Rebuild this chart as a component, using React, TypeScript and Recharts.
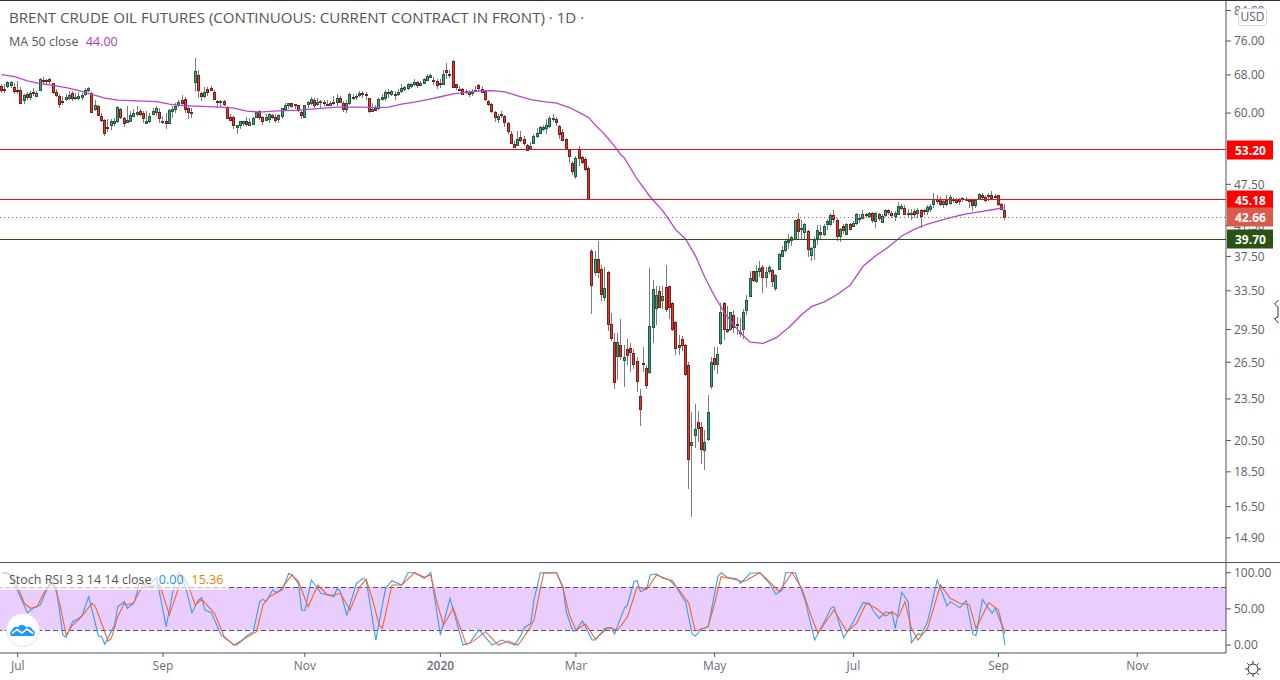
import {
  Bar,
  ComposedChart,
  Line,
  ReferenceArea,
  ReferenceLine,
  XAxis,
  YAxis,
} from "recharts";

const FONT = "'Open Sans', 'Noto Sans', sans-serif";

// trading days, Jul 2019 to Sep 2020, plus empty room on the right of the chart
const slotCount = 380;

const opens = [
  65.5, 65.0, 65.5, 65.8, 65.4, 64.8, 64.7, 62.5, 63.8, 63.1,
  64.3, 63.5, 64.6, 66.8, 66.8, 67.0, 66.2, 64.3, 63.4, 62.4,
  62.8, 63.1, 64.0, 63.0, 63.1, 63.2, 63.8, 64.6, 64.1, 60.9,
  61.4, 59.4, 58.6, 57.3, 57.6, 58.2, 58.4, 60.9, 59.0, 58.2,
  58.6, 59.6, 60.0, 60.4, 60.0, 58.1, 58.5, 59.8, 60.3, 60.2,
  58.4, 58.5, 58.0, 60.4, 60.8, 61.6, 62.7, 62.8, 61.0, 60.3,
  66.3, 68.0, 64.1, 63.4, 65.0, 65.2, 64.3, 62.4, 62.2, 62.4,
  61.2, 59.2, 59.2, 57.4, 57.7, 58.0, 58.5, 57.8, 57.8, 59.3,
  60.4, 59.2, 58.7, 58.8, 59.6, 59.3, 58.9, 59.5, 60.9, 61.6,
  62.0, 61.8, 61.7, 60.2, 59.4, 61.7, 62.0, 62.7, 61.7, 62.2,
  62.2, 61.9, 61.7, 62.3, 62.3, 63.1, 62.0, 60.7, 62.0, 63.3,
  63.2, 63.5, 64.0, 63.9, 63.0, 60.6, 61.0, 61.0, 62.7, 63.0,
  64.3, 63.7, 63.9, 63.8, 64.5, 64.9, 65.1, 65.7, 65.9, 66.4,
  65.8, 66.3, 67.0, 67.6, 66.9, 66.7, 66.2, 66.1, 69.2, 68.3,
  71.1, 65.9, 65.0, 65.0, 64.3, 64.3, 64.0, 64.6, 65.7, 65.0,
  64.4, 62.5, 61.9, 60.2, 58.9, 59.8, 59.4, 58.0, 56.0, 54.2,
  54.0, 55.4, 55.1, 54.0, 53.5, 54.4, 55.6, 56.2, 57.0, 57.1,
  57.4, 59.0, 58.8, 57.6, 56.4, 55.1, 53.1, 51.0, 48.8, 53.3,
  51.9, 51.6, 50.1,
  38.2, 35.7, 37.2, 36.0, 32.8, 35.6, 30.0, 28.3, 27.0, 28.0,
  26.7, 27.7, 27.8, 27.3, 26.6, 23.7, 26.4, 26.0, 25.6, 29.8,
  31.6, 33.5, 32.5, 33.9, 34.0, 32.2, 30.2, 28.0, 28.6, 28.0,
  26.3, 20.2, 20.9, 21.8, 21.4, 19.9, 20.6, 24.5, 26.9, 26.3,
  28.2, 32.2, 29.6, 29.5, 30.9, 30.0, 29.3, 29.5, 31.5, 32.9,
  35.7, 34.5,
  35.8, 36.2, 35.0, 35.7, 35.9, 33.8, 36.0, 37.6, 38.3, 39.4,
  39.5, 39.7, 42.4, 41.0, 40.6, 40.8, 37.7, 38.7, 39.8, 40.6,
  40.3, 41.7, 41.7, 43.0, 42.3, 40.1, 41.4, 40.4, 41.7, 41.5,
  41.8, 42.6, 42.6, 43.1, 42.8, 43.2, 42.1, 43.1, 42.0, 42.9,
  43.6, 43.3, 42.9, 43.1, 43.9, 44.0, 43.2, 43.2, 43.5, 43.2,
  43.7, 43.7, 43.5, 43.8, 44.4, 45.3, 45.2, 44.6, 45.1, 44.6,
  45.2, 45.2, 45.2, 45.2, 45.2, 45.2, 45.1, 44.4, 45.2, 45.9,
  45.6, 45.6, 45.8, 45.7, 45.8, 44.6, 43.6,
];

const closes = [
  64.6, 64.8, 66.4, 66.4, 64.6, 64.6, 62.0, 63.6, 63.1, 64.0,
  64.0, 64.1, 67.0, 66.5, 66.7, 66.5, 64.3, 63.6, 61.7, 62.3,
  63.2, 63.7, 62.9, 63.3, 63.5, 63.6, 64.7, 65.1, 60.2, 61.7,
  59.7, 58.7, 56.1, 57.2, 58.4, 58.5, 61.2, 59.3, 58.0, 58.6,
  59.7, 60.1, 60.3, 59.8, 59.1, 58.5, 59.4, 60.4, 61.0, 59.0,
  58.4, 58.1, 60.6, 60.8, 61.5, 62.3, 62.1, 60.8, 60.2, 60.1,
  68.8, 64.7, 63.4, 64.3, 64.3, 64.8, 62.9, 62.1, 62.5, 61.7,
  59.1, 58.7, 57.7, 57.7, 58.4, 58.4, 58.0, 58.3, 59.0, 60.3,
  59.2, 58.5, 59.3, 59.8, 59.3, 58.7, 59.6, 61.0, 61.7, 62.0,
  61.4, 61.6, 60.6, 59.6, 61.7, 62.2, 62.9, 61.6, 62.2, 62.5,
  61.9, 61.8, 62.1, 62.1, 63.1, 62.3, 60.7, 62.0, 63.8, 63.1,
  63.5, 64.0, 63.9, 63.8, 60.3, 60.9, 60.7, 62.8, 63.2, 64.3,
  64.1, 64.4, 63.6, 64.2, 65.1, 65.4, 66.0, 66.1, 66.4, 65.8,
  66.2, 67.1, 67.8, 68.0, 66.7, 65.9, 66.1, 68.3, 68.7, 68.0,
  65.2, 65.3, 64.9, 64.0, 64.6, 63.9, 64.5, 64.8, 65.0, 64.4,
  62.8, 61.9, 60.5, 59.2, 59.4, 59.7, 58.2, 56.5, 54.4, 53.7,
  55.1, 54.9, 54.3, 53.2, 53.9, 55.7, 56.2, 57.3, 57.4, 57.7,
  59.0, 59.1, 58.3, 56.1, 55.0, 53.3, 52.1, 49.6, 51.8, 51.8,
  51.1, 49.9, 45.3,
  34.2, 37.2, 35.7, 33.2, 33.8, 30.0, 28.7, 24.8, 28.3, 27.0,
  27.0, 27.2, 27.4, 26.3, 24.9, 22.7, 26.3, 24.6, 29.8, 33.7,
  33.0, 31.8, 32.9, 31.5, 31.7, 29.6, 27.7, 27.8, 28.0, 25.5,
  19.3, 20.4, 21.3, 21.4, 19.9, 20.4, 22.5, 26.5, 26.4, 27.2,
  31.2, 29.6, 29.4, 31.2, 29.7, 29.9, 29.2, 31.2, 32.5, 34.9,
  34.7, 35.7,
  36.1, 35.0, 35.6, 36.2, 34.6, 35.3, 37.8, 38.3, 39.4, 39.6,
  39.9, 42.2, 40.7, 41.1, 41.7, 38.4, 38.6, 39.6, 40.9, 40.4,
  41.4, 42.1, 42.9, 42.4, 40.1, 41.0, 40.8, 41.7, 41.0, 41.9,
  43.1, 42.6, 43.1, 42.9, 43.2, 42.2, 43.2, 42.6, 42.8, 43.6,
  43.3, 43.0, 43.3, 44.2, 44.2, 43.2, 43.3, 43.3, 43.1, 43.6,
  42.8, 43.5, 44.1, 44.3, 45.2, 45.0, 44.4, 45.0, 44.5, 45.5,
  45.1, 44.7, 44.9, 45.4, 45.3, 44.9, 44.3, 45.1, 46.0, 45.6,
  45.1, 45.8, 45.4, 45.6, 44.4, 43.9, 42.66,
];

const highs = [
  66.1, 65.9, 66.7, 66.7, 66.3, 66.7, 65.4, 63.8, 64.2, 64.6,
  65.1, 64.6, 67.3, 67.6, 67.0, 67.3, 66.3, 64.9, 63.8, 63.4,
  63.8, 64.6, 64.6, 64.0, 64.2, 64.0, 65.2, 65.4, 64.2, 62.7,
  61.7, 60.1, 58.8, 58.8, 58.8, 59.1, 61.4, 61.1, 59.3, 61.4,
  60.5, 60.9, 61.4, 60.8, 60.4, 60.4, 60.1, 61.1, 61.4, 61.1,
  59.4, 60.1, 60.8, 61.4, 62.1, 62.7, 63.6, 63.3, 61.7, 61.1,
  71.8, 69.0, 64.2, 65.4, 65.4, 65.6, 64.7, 62.6, 62.7, 62.7,
  61.4, 59.8, 59.4, 57.7, 58.5, 58.5, 59.3, 59.1, 59.2, 60.5,
  60.7, 59.4, 59.8, 60.0, 59.9, 59.8, 59.8, 61.1, 62.1, 62.1,
  62.1, 61.7, 61.7, 60.4, 61.7, 62.4, 63.3, 63.1, 63.1, 62.6,
  62.6, 62.7, 62.4, 63.4, 63.8, 63.4, 62.4, 62.7, 64.0, 63.8,
  63.8, 64.4, 64.4, 64.2, 63.1, 62.1, 61.7, 63.1, 63.8, 64.7,
  64.9, 64.7, 64.6, 64.9, 65.9, 65.6, 66.3, 66.3, 67.0, 66.7,
  66.7, 67.3, 68.1, 68.3, 67.6, 67.0, 67.0, 69.2, 70.6, 69.2,
  71.5, 66.1, 65.6, 65.2, 64.9, 64.7, 64.9, 65.6, 66.1, 65.6,
  64.7, 62.7, 62.1, 60.4, 59.8, 60.5, 59.6, 58.3, 56.6, 54.8,
  56.6, 56.6, 55.7, 54.2, 54.5, 56.0, 57.2, 57.5, 57.7, 58.8,
  59.4, 59.8, 59.2, 57.7, 56.9, 55.2, 53.4, 51.2, 52.2, 53.9,
  52.2, 52.0, 50.4,
  38.4, 38.2, 39.5, 36.5, 36.2, 35.7, 31.1, 29.2, 29.2, 30.5,
  28.0, 28.6, 28.2, 27.7, 27.0, 24.3, 27.9, 26.3, 36.1, 34.7,
  34.0, 34.0, 34.0, 36.4, 34.0, 32.3, 30.3, 29.0, 28.9, 28.1,
  26.5, 22.5, 23.1, 22.6, 21.8, 21.2, 23.8, 27.0, 27.9, 27.9,
  32.2, 32.3, 31.9, 31.3, 31.5, 30.7, 30.6, 31.6, 33.0, 35.7,
  35.8, 36.5,
  36.9, 36.4, 36.2, 36.5, 36.0, 35.4, 37.9, 38.8, 39.6, 40.4,
  40.1, 42.3, 43.3, 42.3, 41.9, 40.9, 38.7, 39.9, 41.6, 41.5,
  41.7, 42.4, 43.2, 43.7, 42.5, 41.2, 41.7, 41.9, 41.9, 42.1,
  43.3, 43.1, 43.7, 43.3, 43.4, 43.4, 43.4, 43.3, 43.1, 43.8,
  43.8, 43.5, 43.5, 44.8, 44.5, 44.4, 43.8, 43.8, 43.8, 44.0,
  43.8, 43.8, 44.4, 44.6, 46.2, 45.8, 45.6, 45.3, 45.8, 45.8,
  45.5, 45.4, 45.4, 45.6, 45.6, 45.3, 45.2, 45.2, 46.2, 46.1,
  45.8, 46.2, 46.5, 46.0, 45.9, 44.7, 44.6,
];

const lows = [
  64.0, 64.0, 65.1, 65.1, 63.8, 63.8, 61.9, 61.8, 62.7, 62.6,
  63.4, 63.4, 64.4, 65.9, 65.9, 66.1, 63.8, 63.3, 61.1, 61.7,
  62.4, 62.7, 62.4, 62.6, 62.7, 62.6, 63.4, 64.2, 60.1, 60.5,
  59.4, 58.3, 55.7, 56.3, 56.7, 57.5, 58.1, 58.8, 57.3, 58.1,
  58.3, 59.2, 59.4, 59.4, 58.1, 57.9, 58.1, 59.6, 59.4, 58.1,
  57.8, 57.0, 57.8, 59.1, 60.1, 61.2, 61.7, 60.1, 58.8, 59.1,
  64.2, 63.1, 62.4, 63.1, 63.4, 64.4, 62.7, 61.1, 61.2, 61.4,
  58.8, 58.6, 57.0, 56.0, 56.9, 57.5, 57.6, 57.7, 57.7, 59.1,
  58.7, 57.7, 58.5, 58.1, 58.8, 58.0, 58.0, 58.8, 60.4, 60.8,
  61.1, 60.9, 60.3, 58.9, 59.1, 61.1, 61.6, 61.1, 61.4, 61.1,
  61.4, 61.4, 61.4, 61.6, 61.4, 62.1, 60.3, 60.1, 61.7, 62.7,
  62.7, 63.3, 63.1, 62.7, 60.1, 60.3, 60.4, 60.7, 62.4, 62.4,
  63.1, 63.4, 62.6, 63.4, 64.0, 64.6, 64.7, 65.2, 65.6, 65.2,
  65.6, 65.9, 66.7, 67.4, 65.8, 64.9, 65.2, 65.9, 67.0, 67.4,
  65.1, 64.7, 64.4, 63.7, 63.8, 63.3, 63.4, 64.2, 64.6, 64.0,
  62.4, 61.4, 60.1, 58.3, 58.1, 59.1, 57.3, 56.1, 54.2, 53.6,
  53.9, 54.5, 53.9, 53.0, 53.3, 54.2, 55.3, 56.0, 56.6, 56.1,
  57.2, 58.3, 57.5, 55.1, 54.8, 53.3, 50.9, 48.9, 48.3, 50.5,
  50.8, 49.7, 45.1,
  31.0, 35.2, 34.9, 32.4, 32.4, 29.4, 28.4, 24.3, 25.0, 26.7,
  24.4, 26.3, 25.7, 25.9, 24.0, 21.5, 25.7, 24.3, 25.5, 28.2,
  29.9, 31.7, 31.6, 31.2, 30.5, 29.4, 27.1, 27.1, 27.5, 25.3,
  17.5, 15.98, 20.0, 20.4, 19.0, 18.6, 20.5, 24.3, 25.8, 25.5,
  28.0, 28.5, 29.2, 29.4, 29.2, 29.0, 28.8, 28.6, 30.9, 32.8,
  34.5, 34.4,
  35.0, 33.3, 33.9, 35.4, 33.9, 33.5, 35.9, 37.4, 38.1, 38.4,
  38.8, 39.6, 39.6, 39.6, 39.6, 37.4, 36.9, 37.1, 38.9, 39.6,
  40.1, 40.9, 41.4, 41.9, 39.4, 39.3, 40.3, 40.2, 40.9, 41.3,
  41.6, 41.9, 42.4, 42.5, 42.5, 41.9, 41.2, 42.1, 41.9, 42.7,
  43.0, 42.6, 42.1, 43.0, 43.7, 42.9, 42.6, 42.3, 42.6, 42.6,
  41.2, 42.9, 42.9, 43.4, 44.0, 44.6, 44.2, 44.0, 44.3, 44.4,
  44.7, 44.5, 44.4, 44.8, 44.9, 44.0, 43.5, 43.9, 45.1, 45.3,
  44.8, 45.0, 45.2, 45.4, 44.2, 43.6, 42.2,
];

// MA 50, read every few sessions
const maSlots = [
  0, 4, 8, 12, 16, 20, 24, 28, 32, 36, 40, 44, 48, 52, 56, 60, 64, 68, 72, 76,
  80, 84, 88, 92, 96, 100, 104, 108, 112, 116, 120, 124, 128, 132, 136, 140,
  144, 148, 152, 156, 160, 164, 168, 172, 176, 180, 182, 184, 186, 188, 190,
  192, 193, 197, 201, 205, 209, 212, 215, 218, 221, 224, 227, 229, 232, 236,
  240, 244, 248, 251, 255, 259, 263, 267, 271, 275, 279, 283, 287, 291, 295,
  299, 303, 307, 311,
];
const maValues = [
  68.05, 67.6, 66.7, 66.1, 65.7, 65.2, 64.6, 63.8, 63.0, 62.6, 62.5, 62.4, 62.3,
  61.8, 61.5, 61.4, 61.3, 61.2, 61.0, 60.4, 60.2, 60.4, 60.5, 60.6, 60.8, 61.0,
  61.2, 61.2, 61.2, 61.1, 61.2, 61.8, 62.2, 62.7, 63.3, 63.9, 64.2, 64.5, 64.6,
  64.3, 63.5, 62.7, 62.3, 62.0, 61.1, 59.8, 59.1, 57.7, 56.5, 55.2, 53.8, 52.3,
  51.8, 48.3, 45.6, 43.5, 40.9, 39.7, 37.6, 35.0, 32.9, 31.2, 29.9, 29.2, 28.3,
  28.2, 28.7, 29.7, 31.0, 31.8, 32.3, 33.1, 34.1, 36.3, 37.6, 38.7, 40.1, 41.0,
  41.7, 42.2, 42.7, 43.1, 43.4, 43.7, 44.0,
];

// Stoch RSI %K and %D, read at their turning points
const kSlots = [
  0, 2, 3, 6, 8, 10, 12, 15, 17, 19, 20, 22, 24, 25, 27, 30, 31, 32, 35, 36, 38,
  39, 41, 43, 45, 48, 51, 54, 55, 57, 59, 61, 62, 63, 65, 68, 72, 73, 76, 78,
  80, 81, 82, 84, 85, 87, 89, 90, 92, 93, 94, 96, 99, 103, 104, 105, 107, 110,
  112, 113, 116, 119, 121, 124, 126, 128, 131, 133, 134, 136, 139, 143, 145,
  148, 152, 155, 159, 161, 162, 164, 165, 167, 172, 174, 175, 177, 178, 180,
  181, 183, 184, 187, 189, 190, 193, 194, 196, 197, 198, 200, 201, 203, 205,
  208, 211, 212, 214, 215, 217, 219, 220, 222, 223, 225, 228, 229, 232, 235,
  238, 240, 242, 243, 246, 249, 252, 255, 257, 258, 261, 264, 267, 269, 270,
  272, 274, 276, 277, 279, 281, 282, 284, 285, 287, 290, 291, 293, 294, 297,
  299, 301, 302, 304, 307, 308, 310, 311,
];
const kValues = [
  100, 100, 94.5, 64.6, 44.8, 51.7, 55.4, 87.6, 76.1, 13.9, 10.6, 32.3, 36.9,
  41.5, 66.9, 12.5, 11.6, 1, 27.7, 53, 60, 50.8, 57.7, 89.9, 78.4, 93.6, 25.4,
  94.5, 100, 80.7, 44.8, 62.3, 65.5, 48.4, 44.8, 13.9, 0, 0, 12.5, 18.5, 60,
  63.2, 60, 76.1, 72.9, 76.1, 99.2, 96.9, 85.3, 48.4, 47.5, 89.9, 71.5, 66.9,
  78.4, 73.8, 41.5, 85.3, 92.2, 89.9, 6.9, 78.4, 89, 83, 100, 100, 92.2, 100,
  71.5, 13.9, 64.6, 0, 2.3, 20.8, 0, 6.9, 0, 13.9, 24, 30, 62.3, 100, 100, 80.7,
  46, 19.4, 19.9, 33.2, 25.4, 6.9, 6.9, 23.1, 24, 15.3, 50.8, 55.4, 87.6, 89,
  73.8, 78.4, 96.9, 98.2, 92.2, 89, 66, 60, 15.3, 12.5, 22.2, 25.4, 48.4, 94.5,
  100, 93.6, 91.3, 85.3, 99.2, 100, 85.3, 70.1, 76.1, 100, 100, 62.3, 6.9, 32.3,
  50.8, 53, 10.2, 32.3, 58.6, 57.7, 48.4, 36.9, 46, 43.8, 23.1, 72.9, 60, 3.3,
  15.3, 13.9, 32.3, 89.9, 78.4, 54, 60, 51.7, 61.4, 15.3, 12.9, 63.2, 43.8,
  50.8, 27.7, 0,
];
const dSlots = [
  0, 3, 4, 5, 7, 9, 11, 13, 16, 18, 20, 22, 24, 26, 28, 29, 31, 33, 34, 36, 38,
  39, 41, 44, 46, 49, 52, 55, 56, 58, 60, 62, 66, 69, 72, 76, 79, 81, 83, 86,
  90, 92, 95, 98, 101, 103, 105, 108, 111, 113, 115, 117, 118, 121, 124, 128,
  131, 133, 135, 137, 140, 144, 146, 150, 154, 157, 160, 161, 163, 165, 167,
  168, 172, 174, 176, 178, 181, 184, 188, 191, 194, 197, 200, 203, 207, 210,
  213, 215, 219, 221, 223, 227, 230, 235, 238, 241, 245, 248, 251, 253, 258,
  262, 265, 268, 271, 274, 276, 278, 280, 282, 284, 287, 291, 294, 297, 300,
  302, 306, 309, 310, 311,
];
const dValues = [
  100, 97, 92.2, 80.7, 57.7, 50.8, 53, 71.5, 87.6, 57.7, 13.9, 27.7, 35.5, 46.1,
  57.7, 54, 30, 5.6, 9.3, 39.2, 57.7, 55.4, 58.6, 85.3, 80.7, 83, 41.5, 80.7,
  96.9, 80.7, 55.4, 63.2, 43.8, 11.6, 0, 10.6, 18.5, 55.4, 66.9, 73.8, 96.9,
  87.6, 53, 83, 69.2, 69.2, 71.5, 48.4, 80.7, 90.9, 62.3, 27.7, 23.1, 83, 83,
  100, 93.6, 96.9, 57.7, 27.7, 50.8, 1, 4.7, 18.5, 0, 5.6, 0, 5.6, 18.5, 34.6,
  78.4, 99.2, 100, 78.4, 41.5, 20.8, 29.1, 8.3, 24, 20.8, 39.2, 80.7, 77, 96.9,
  89.9, 76.1, 57.7, 19.4, 25.4, 57.7, 94.5, 90.9, 87.6, 100, 87.6, 73.8, 100,
  78.4, 39.2, 16.2, 48.4, 18.5, 30, 57.7, 50.8, 40.1, 46, 39.2, 60, 23.1, 6.9,
  23.1, 83, 64.6, 57.7, 55.4, 23.1, 58.6, 48.4, 30, 15.36,
];

const priceTicks = [84, 76, 68, 60, 47.5, 41.5, 37.5, 33.5, 29.5, 26.5, 23.5, 20.5, 18.5, 16.5, 14.9];
const priceDomain = [13.72, 86.65];
const stochTicks = [0, 50, 100];
const timeSlots = [5, 50, 94, 136, 178, 221, 264, 309, 352];
const timeLabels = ["Jul", "Sep", "Nov", "2020", "Mar", "May", "Jul", "Sep", "Nov"];

const rows = Array.from({ length: slotCount }, (_, slot) => {
  const maAt = maSlots.indexOf(slot);
  const kAt = kSlots.indexOf(slot);
  const dAt = dSlots.indexOf(slot);
  const traded = slot < opens.length;
  return {
    slot,
    open: traded ? opens[slot] : null,
    close: traded ? closes[slot] : null,
    high: traded ? highs[slot] : null,
    low: traded ? lows[slot] : null,
    range: traded ? [lows[slot], highs[slot]] : null,
    ma: maAt >= 0 ? maValues[maAt] : null,
    k: kAt >= 0 ? kValues[kAt] : null,
    d: dAt >= 0 ? dValues[dAt] : null,
  };
});

// the bar spans low..high, open and close are placed inside it on the log scale
function Candle(props: any) {
  const { x, y, width, height, payload } = props;
  if (!payload || payload.high == null) return null;
  const { open, close, high, low } = payload;
  const perLog = height / Math.log(high / low);
  const yOpen = y + perLog * Math.log(high / open);
  const yClose = y + perLog * Math.log(high / close);
  const top = Math.round(Math.min(yOpen, yClose));
  const bodyH = Math.max(2, Math.round(Math.abs(yOpen - yClose)) + 1);
  const cx = Math.floor(x + width / 2);
  const up = close >= open;
  return (
    <g shapeRendering="crispEdges">
      <rect x={cx} y={y} width={1} height={height} fill="#7b7b7b" />
      <rect x={cx - 1} y={top} width={3} height={bodyH} fill={up ? "#1f5c40" : "#75201a"} />
      {bodyH > 2 && (
        <rect x={cx} y={top + 1} width={1} height={bodyH - 2} fill={up ? "#45a079" : "#e9392a"} />
      )}
    </g>
  );
}

function PriceTag(props: any) {
  const { viewBox, text, fill } = props;
  const y = Math.round(viewBox.y);
  return (
    <g>
      <rect x={1227} y={y - 9.5} width={46} height={19} fill={fill} />
      <text x={1235} y={y + 4.5} fill="#fff" fontSize={12} fontWeight={700} fontFamily={FONT}>
        {text}
      </text>
    </g>
  );
}

function TimeTick(props: any) {
  const { x, y, payload } = props;
  const label = timeLabels[timeSlots.indexOf(payload.value)];
  return (
    <text
      x={x}
      y={y + 11}
      textAnchor="middle"
      fontSize={12}
      fontFamily={FONT}
      fontWeight={label === "2020" ? 600 : 400}
      fill="#6a6d78"
    >
      {label}
    </text>
  );
}

const axisText = { fontSize: 12, fontFamily: FONT, fill: "#5d606b" };

function SunIcon() {
  return (
    <svg width={18} height={18} style={{ position: "absolute", left: 1244, top: 660 }} viewBox="0 0 18 18">
      <circle cx={9} cy={9} r={5} fill="none" stroke="#222" strokeWidth={1} />
      <path
        d="M9 1v2.5M9 14.5V17M1 9h2.5M14.5 9H17M3.3 3.3l1.8 1.8M12.9 12.9l1.8 1.8M3.3 14.7l1.8-1.8M12.9 5.1l1.8-1.8"
        stroke="#222"
        strokeWidth={1}
      />
    </svg>
  );
}

function LogoIcon() {
  return (
    <svg width={36} height={36} style={{ position: "absolute", left: 5, top: 612 }} viewBox="0 0 36 36">
      <circle cx={18} cy={18} r={16.5} fill="#fff" stroke="#e6def0" strokeWidth={1} />
      <path
        d="M7 24c-2.5 0-2.5-5 0-5.5C8 15 11 14 13 15.5 15 11.5 19 12 21 15.5c3-2 6 0 6.5 2.5 3 .5 3 6 0 6z"
        fill="#2196f3"
      />
      <path d="M7 21.5l5-4 5 3.5 5-4 6 4.5" fill="none" stroke="#fff" strokeWidth={1.6} />
    </svg>
  );
}

function CursorIcon() {
  return (
    <svg width={8} height={25} style={{ position: "absolute", left: 1272, top: 299 }} viewBox="0 0 8 25">
      <path d="M6.5 1L2.5 5l3.5 3v10l-3.5 1.5 4 4.5" fill="#fff" stroke="#333" strokeWidth={1} />
    </svg>
  );
}

export default function App() {
  return (
    <div
      style={{
        position: "absolute",
        left: 0,
        top: 0,
        width: 1280,
        height: 680,
        overflow: "hidden",
        background: "#fff",
        fontFamily: FONT,
      }}
    >
      {/* Price pane */}
      <div style={{ position: "absolute", left: 0, top: 1 }}>
        <ComposedChart
          width={1280}
          height={562}
          data={rows}
          margin={{ top: 0, right: 0, bottom: 0, left: 0 }}
          barCategoryGap={0}
        >
          <XAxis dataKey="slot" hide padding={{ left: 0, right: 0 }} />
          <YAxis
            orientation="right"
            width={54}
            scale="log"
            domain={priceDomain}
            allowDataOverflow
            ticks={priceTicks}
            interval={0}
            tickFormatter={(v: number) => v.toFixed(2)}
            tick={axisText}
            tickSize={5}
            tickMargin={3}
            stroke="#50535e"
          />
          <Bar dataKey="range" shape={<Candle />} isAnimationActive={false} />
          <Line
            dataKey="ma"
            type="linear"
            connectNulls
            dot={false}
            stroke="#b546cc"
            strokeWidth={1.3}
            isAnimationActive={false}
          />
        </ComposedChart>
      </div>

      {/* Price lines and their tags sit above the axis text */}
      <div style={{ position: "absolute", left: 0, top: 1 }}>
        <ComposedChart
          width={1280}
          height={562}
          data={rows}
          margin={{ top: 0, right: 54, bottom: 0, left: 0 }}
        >
          <XAxis dataKey="slot" hide padding={{ left: 0, right: 0 }} />
          <YAxis hide scale="log" domain={priceDomain} allowDataOverflow />
          <ReferenceLine
            y={53.2}
            stroke="#ee1111"
            shapeRendering="crispEdges"
            ifOverflow="visible"
            label={<PriceTag text="53.20" fill="#ff0000" />}
          />
          <ReferenceLine
            y={45.18}
            stroke="#ee1111"
            shapeRendering="crispEdges"
            ifOverflow="visible"
            label={<PriceTag text="45.18" fill="#ff0000" />}
          />
          <ReferenceLine
            y={42.66}
            stroke="#cf4a3c"
            strokeDasharray="1 3"
            shapeRendering="crispEdges"
            ifOverflow="visible"
            label={<PriceTag text="42.66" fill="#dc5a4a" />}
          />
          <ReferenceLine
            y={39.7}
            stroke="#2a5214"
            shapeRendering="crispEdges"
            ifOverflow="visible"
            label={<PriceTag text="39.70" fill="#2a5214" />}
          />
        </ComposedChart>
      </div>

      {/* Stoch RSI pane */}
      <div style={{ position: "absolute", left: 0, top: 563 }}>
        <ComposedChart
          width={1280}
          height={117}
          data={rows}
          margin={{ top: 0, right: 0, bottom: 0, left: 0 }}
          barCategoryGap={0}
        >
          <XAxis
            dataKey="slot"
            height={27}
            ticks={timeSlots}
            interval={0}
            tick={<TimeTick />}
            tickSize={4}
            stroke="#50535e"
            padding={{ left: 0, right: 0 }}
            scale="band"
          />
          <YAxis
            orientation="right"
            width={54}
            domain={[-11, 113.4]}
            allowDataOverflow
            ticks={stochTicks}
            interval={0}
            tickFormatter={(v: number) => v.toFixed(2)}
            tick={axisText}
            tickSize={5}
            tickMargin={3}
            stroke="#50535e"
          />
          <ReferenceArea y1={20} y2={80} fill="#e8cdfd" fillOpacity={1} stroke="none" />
          <ReferenceLine y={80} stroke="#5f4a70" strokeDasharray="5 3" shapeRendering="crispEdges" />
          <ReferenceLine y={20} stroke="#5f4a70" strokeDasharray="5 3" shapeRendering="crispEdges" />
          <Line
            dataKey="k"
            type="linear"
            connectNulls
            dot={false}
            stroke="#3a9bf4"
            strokeWidth={1.1}
            isAnimationActive={false}
          />
          <Line
            dataKey="d"
            type="linear"
            connectNulls
            dot={false}
            stroke="#f2652a"
            strokeWidth={1.1}
            isAnimationActive={false}
          />
        </ComposedChart>
      </div>

      {/* frame lines */}
      <div style={{ position: "absolute", left: 0, top: 0, width: 1280, height: 1, background: "#2a2e39" }} />
      <div style={{ position: "absolute", left: 0, top: 562, width: 1280, height: 1, background: "#50535e" }} />

      {/* legends */}
      <div style={{ position: "absolute", left: 9, top: 7, fontSize: 15.1, color: "#555", whiteSpace: "nowrap" }}>
        BRENT CRUDE OIL FUTURES (CONTINUOUS: CURRENT CONTRACT IN FRONT) · 1D ·
      </div>
      <div style={{ position: "absolute", left: 9, top: 33, fontSize: 12.5, color: "#555", whiteSpace: "nowrap" }}>
        MA 50 close <span style={{ color: "#a93cc0", marginLeft: 4 }}>44.00</span>
      </div>
      <div
        style={{
          position: "absolute",
          left: 0,
          top: 570,
          width: 228,
          height: 20,
          background: "rgba(255,255,255,0.65)",
        }}
      />
      <div style={{ position: "absolute", left: 9, top: 571, fontSize: 12.5, color: "#555", whiteSpace: "nowrap" }}>
        Stoch RSI 3 3 14 14 close <span style={{ color: "#2196f3", marginLeft: 4 }}>0.00</span>
        <span style={{ color: "#f57c00", marginLeft: 8 }}>15.36</span>
      </div>
      <LogoIcon />

      {/* USD button, settings icon, mouse cursor */}
      <div
        style={{
          position: "absolute",
          left: 1238,
          top: 8,
          width: 29,
          height: 18,
          boxSizing: "border-box",
          background: "#fff",
          border: "1px solid #d6d8de",
          borderRadius: 3,
          fontSize: 12,
          lineHeight: "16px",
          textAlign: "center",
          color: "#5d606b",
        }}
      >
        USD
      </div>
      <SunIcon />
      <CursorIcon />
    </div>
  );
}
